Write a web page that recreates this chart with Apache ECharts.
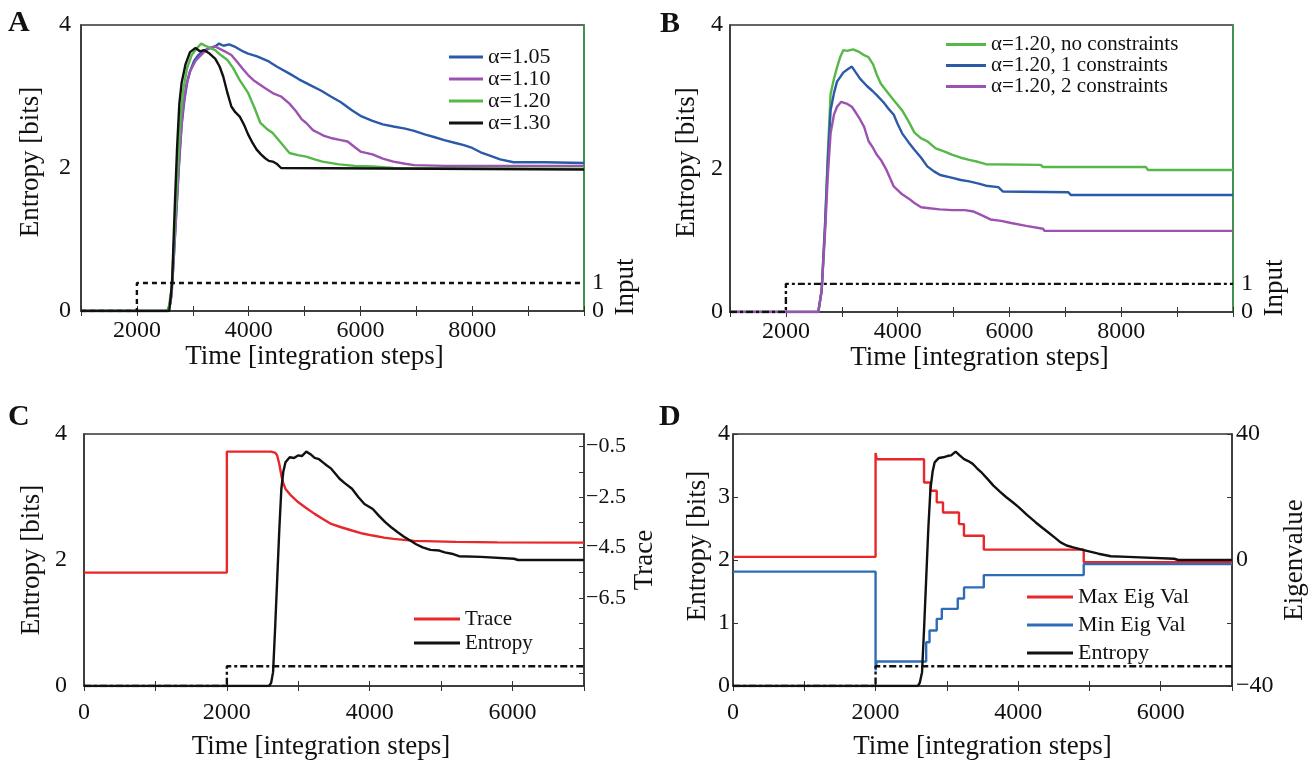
<!DOCTYPE html>
<html><head><meta charset="utf-8">
<script src="https://cdn.jsdelivr.net/npm/echarts@6/dist/echarts.min.js"></script>
<style>html,body{margin:0;padding:0;background:#fff}#c{width:1309px;height:761px}</style>
</head><body><div id="c"></div>
<script>
// ---------- Panel A: entropy for different alpha ----------
const aAlpha105 = [[1000,0],[2540,0],[2600,0.1],[2650,0.6],[2700,1.3],[2750,2.0],[2800,2.6],[2850,2.95],[2900,3.2],[2950,3.35],[3025,3.5],[3100,3.58],[3250,3.66],[3400,3.7],[3470,3.74],[3550,3.71],[3650,3.73],[3770,3.69],[3900,3.63],[3990,3.6],[4150,3.56],[4360,3.49],[4500,3.42],[4730,3.32],[4900,3.24],[5100,3.16],[5300,3.08],[5470,3.0],[5650,2.92],[5840,2.81],[6000,2.73],[6215,2.66],[6400,2.61],[6590,2.58],[6800,2.55],[6960,2.52],[7150,2.47],[7330,2.43],[7500,2.39],[7700,2.35],[7850,2.32],[8000,2.28],[8150,2.22],[8290,2.18],[8500,2.12],[8740,2.08],[9300,2.08],[10000,2.07]];
const aAlpha110 = [[1000,0],[2560,0],[2620,0.2],[2670,0.9],[2720,1.6],[2770,2.3],[2820,2.8],[2880,3.15],[2950,3.35],[3050,3.5],[3200,3.62],[3300,3.68],[3400,3.7],[3500,3.66],[3600,3.62],[3690,3.58],[3800,3.48],[3900,3.38],[3990,3.3],[4100,3.22],[4290,3.12],[4450,3.04],[4580,3.0],[4730,2.9],[4850,2.79],[4950,2.68],[5030,2.63],[5150,2.53],[5250,2.49],[5350,2.45],[5470,2.42],[5650,2.39],[5770,2.37],[5900,2.29],[6000,2.23],[6215,2.19],[6400,2.13],[6590,2.09],[6800,2.06],[6960,2.04],[7500,2.03],[10000,2.03]];
const aAlpha120 = [[1000,0],[2560,0],[2620,0.3],[2680,1.2],[2730,2.0],[2780,2.7],[2830,3.1],[2900,3.4],[2980,3.58],[3080,3.68],[3150,3.74],[3250,3.7],[3400,3.65],[3500,3.58],[3620,3.51],[3720,3.4],[3840,3.23],[3990,3.05],[4100,2.85],[4210,2.63],[4320,2.55],[4430,2.49],[4580,2.35],[4730,2.21],[4880,2.18],[5030,2.16],[5180,2.12],[5320,2.09],[5620,2.05],[5900,2.03],[6215,2.02],[6590,2.0],[10000,1.99]];
const aAlpha130 = [[1000,0],[2580,0],[2630,0.4],[2680,1.5],[2720,2.3],[2760,2.9],[2800,3.19],[2870,3.45],[2950,3.62],[3050,3.68],[3130,3.63],[3200,3.65],[3300,3.6],[3400,3.53],[3480,3.42],[3545,3.28],[3620,3.05],[3690,2.86],[3760,2.78],[3840,2.72],[3920,2.6],[3990,2.47],[4070,2.35],[4140,2.26],[4220,2.19],[4290,2.14],[4360,2.1],[4430,2.09],[4500,2.06],[4580,2.0],[10000,1.98]];
const aInput = [[1000,0],[2000,1],[10000,1]];

// ---------- Panel B: constraints ----------
const bNoConstr = [[1000,0],[2580,0],[2640,0.3],[2700,1.2],[2750,2.2],[2800,3.04],[2860,3.25],[2915,3.41],[2970,3.55],[3030,3.65],[3100,3.64],[3200,3.66],[3300,3.63],[3400,3.58],[3480,3.55],[3560,3.45],[3630,3.3],[3700,3.18],[3800,3.08],[3930,2.95],[4080,2.81],[4200,2.65],[4300,2.5],[4420,2.42],[4530,2.38],[4680,2.28],[4830,2.24],[4980,2.19],[5130,2.15],[5280,2.12],[5450,2.09],[5580,2.06],[6560,2.05],[6600,2.02],[8440,2.02],[8480,1.98],[10000,1.98]];
const bOneConstr = [[1000,0],[2580,0],[2640,0.3],[2700,1.2],[2750,2.1],[2800,2.81],[2860,3.05],[2915,3.21],[3030,3.34],[3100,3.38],[3180,3.42],[3250,3.34],[3330,3.25],[3450,3.15],[3550,3.08],[3630,3.02],[3750,2.92],[3850,2.82],[3930,2.75],[4000,2.62],[4080,2.49],[4200,2.36],[4300,2.26],[4420,2.15],[4530,2.03],[4650,1.96],[4760,1.91],[4980,1.87],[5130,1.84],[5280,1.82],[5450,1.79],[5580,1.76],[5800,1.74],[5880,1.68],[7050,1.67],[7100,1.63],[10000,1.63]];
const bTwoConstr = [[1000,0],[2580,0],[2640,0.3],[2700,1.1],[2750,1.9],[2800,2.49],[2860,2.75],[2915,2.86],[2990,2.93],[3100,2.9],[3180,2.86],[3250,2.78],[3330,2.68],[3400,2.58],[3480,2.38],[3550,2.3],[3620,2.2],[3700,2.12],[3800,1.98],[3930,1.75],[4000,1.7],[4080,1.64],[4200,1.58],[4300,1.52],[4420,1.46],[4530,1.45],[4750,1.43],[4980,1.42],[5200,1.42],[5360,1.4],[5500,1.35],[5660,1.29],[5850,1.27],[6030,1.24],[6300,1.2],[6600,1.16],[6630,1.13],[10000,1.13]];
const bInput = [[1000,0],[2000,1],[10000,1]];

// ---------- Panel C: trace and entropy ----------
const cTrace = [[0,-5.5],[2000,-5.5],[2000,-0.7],[2620,-0.7],[2680,-0.75],[2705,-0.86],[2735,-1.2],[2763,-1.65],[2790,-1.95],[2821,-2.18],[2900,-2.45],[2996,-2.7],[3100,-2.92],[3229,-3.17],[3350,-3.38],[3461,-3.57],[3600,-3.7],[3752,-3.83],[3900,-3.95],[4043,-4.03],[4200,-4.11],[4334,-4.16],[4625,-4.24],[5207,-4.28],[5788,-4.3],[7000,-4.31]];
const cEntropy = [[0,0],[2590,0],[2620,0.05],[2647,0.22],[2675,0.9],[2705,1.7],[2735,2.5],[2763,3.13],[2790,3.4],[2821,3.55],[2880,3.63],[2940,3.62],[2996,3.66],[3050,3.65],[3112,3.72],[3170,3.68],[3229,3.62],[3290,3.6],[3345,3.55],[3400,3.5],[3461,3.45],[3520,3.37],[3578,3.29],[3650,3.22],[3752,3.13],[3840,3.0],[3926,2.89],[4043,2.81],[4130,2.7],[4217,2.6],[4300,2.52],[4392,2.44],[4480,2.37],[4567,2.31],[4650,2.25],[4741,2.2],[4850,2.16],[4974,2.15],[5050,2.12],[5148,2.1],[5250,2.06],[5555,2.05],[6020,2.02],[6078,2.0],[7000,2.0]];
const cInput = [[0,0],[2000,1],[7000,1]];
const cTraceTicks = [-0.5,-1.5,-2.5,-3.5,-4.5,-5.5,-6.5,-7.5,-8.5,-9.5];
const cTraceLabels = [-0.5,-2.5,-4.5,-6.5];

// ---------- Panel D: eigenvalues and entropy ----------
const dMaxEig = [[0,1],[2000,34],[2015,32],[2680,24.6],[2770,22],[2858,18.3],[2946,15.1],[3170,11.4],[3240,7.7],[3518,3.3],[4920,-0.7],[7000,-0.7]];
const dMinEig = [[0,-3.7],[2000,-35],[2015,-32.2],[2710,-26.1],[2757,-22.4],[2858,-18.7],[2929,-15.5],[3153,-12.2],[3241,-8.7],[3518,-4.8],[4920,-1.3],[7000,-1.3]];
const dEntropy = [[0,0],[2593,0],[2620,0.05],[2652,0.22],[2680,0.9],[2710,1.7],[2740,2.5],[2770,3.13],[2800,3.4],[2829,3.55],[2888,3.62],[2950,3.63],[3005,3.65],[3060,3.66],[3123,3.72],[3180,3.66],[3241,3.6],[3300,3.57],[3359,3.53],[3420,3.46],[3477,3.4],[3560,3.3],[3653,3.18],[3740,3.09],[3830,3.0],[3920,2.92],[4007,2.84],[4120,2.72],[4243,2.6],[4330,2.52],[4420,2.44],[4510,2.36],[4596,2.28],[4680,2.23],[4773,2.2],[4950,2.15],[5126,2.1],[5300,2.06],[5539,2.05],[6187,2.02],[6246,2.0],[7000,2.0]];
const dInput = [[0,0],[2000,1],[7000,1]];

const namesA = ['α=1.05','α=1.10','α=1.20','α=1.30'];
const namesB = ['α=1.20, no constraints','α=1.20, 1 constraints','α=1.20, 2 constraints'];
const namesC = ['Trace','Entropy'];
const namesD = ['Max Eig Val','Min Eig Val','Entropy '];

const FONT = '"Liberation Serif", "Times New Roman", serif';
const INK = '#111';
const AX = '#333';
const GREEN_AX = '#3a9f4a';
const C_BLUE = '#2a5aa8', C_PURPLE = '#9d52b2', C_GREEN = '#55b848', C_BLACK = '#111', C_RED = '#e8262b', C_BLUE2 = '#2f6cb8';

const chart = echarts.init(document.getElementById('c'), null, {renderer: 'canvas'});

function xb(grid, min, max, fmt, margin, gap, shiftLeft) {
  return {
    type: 'value', gridIndex: grid, position: 'bottom', min: min, max: max, interval: 1000,
    axisLine: {show: true, onZero: false, lineStyle: {color: AX, width: 1.5}},
    axisTick: {show: true, inside: true, length: 5, lineStyle: {color: AX}},
    axisLabel: {show: true, formatter: fmt, margin: margin, color: INK, fontFamily: FONT, fontSize: 24},
    splitLine: {show: false},
    name: 'Time [integration steps]', nameLocation: 'middle', nameGap: gap,
    nameTextStyle: {color: INK, fontFamily: FONT, fontSize: 27, padding: [0, 2 * shiftLeft, 0, 0]}
  };
}
function xt(grid, min, max) {
  return {
    type: 'value', gridIndex: grid, position: 'top', min: min, max: max, interval: 1000,
    axisLine: {show: false}, axisTick: {show: true, inside: true, length: 5, lineStyle: {color: AX}},
    axisLabel: {show: false}, splitLine: {show: false}
  };
}
function yl(grid, interval, margin, gap, shiftUp) {
  return {
    type: 'value', gridIndex: grid, position: 'left', min: 0, max: 4, interval: interval,
    axisLine: {show: true, onZero: false, lineStyle: {color: AX, width: 1.5}},
    axisTick: {show: interval === 1, inside: true, length: 5, lineStyle: {color: AX}},
    axisLabel: {margin: margin, color: INK, fontFamily: FONT, fontSize: 24},
    splitLine: {show: false},
    name: 'Entropy [bits]', nameLocation: 'middle', nameGap: gap, nameRotate: 90,
    nameTextStyle: {color: INK, fontFamily: FONT, fontSize: 27, padding: [0, 0, 0, 2 * shiftUp]}
  };
}
function yInput(grid) {
  return {
    type: 'value', gridIndex: grid, position: 'right', min: 0, max: 10.2, interval: 1,
    axisLine: {show: true, onZero: false, lineStyle: {color: GREEN_AX, width: 1.5}},
    axisTick: {show: false},
    axisLabel: {margin: 8, color: INK, fontFamily: FONT, fontSize: 24,
      formatter: v => (v === 0 ? '0' : (v === 1 ? '1' : ''))},
    splitLine: {show: false}
  };
}
function yHidden(grid, max) {
  return {type: 'value', gridIndex: grid, show: false, min: 0, max: max, splitLine: {show: false}};
}

const evenThousands = v => (v % 2000 === 0 && v >= 2000 && v <= 8000 ? String(v) : '');
const xAxis = [
  xb(0, 1000, 10000, evenThousands, 8, 31, 18),
  xt(0, 1000, 10000),
  xb(1, 1000, 10000, evenThousands, 8, 31, 2),
  xt(1, 1000, 10000),
  xb(2, 0, 7000, v => (v % 2000 === 0 ? String(v) : ''), 15, 47, 13),
  xt(2, 0, 7000),
  xb(3, 0, 7000, v => (v % 2000 === 0 ? String(v) : ''), 15, 47, 0),
  xt(3, 0, 7000)
];

const yAxis = [
  yl(0, 2, 10, 37, 6),
  yInput(0),
  yl(1, 2, 7, 30, 6),
  yInput(1),
  yl(2, 2, 17, 39, 0),
  { type: 'value', gridIndex: 2, position: 'right', min: -10, max: 0,
    axisLine: {show: true, onZero: false, lineStyle: {color: AX, width: 1.5}},
    axisTick: {show: true, inside: true, length: 5, customValues: cTraceTicks, lineStyle: {color: AX}},
    axisLabel: {margin: 2, color: INK, fontFamily: FONT, fontSize: 22, customValues: cTraceLabels,
      formatter: v => '−' + Math.abs(v).toFixed(1)},
    splitLine: {show: false},
    name: 'Trace', nameLocation: 'middle', nameGap: 47, nameRotate: 90,
    nameTextStyle: {color: INK, fontFamily: FONT, fontSize: 27} },
  yHidden(2, 12.75),
  yl(3, 1, 3, 22, 14),
  { type: 'value', gridIndex: 3, position: 'right', min: -40, max: 40, interval: 20,
    axisLine: {show: true, onZero: false, lineStyle: {color: AX, width: 1.5}},
    axisTick: {show: true, inside: true, length: 5, lineStyle: {color: AX}},
    axisLabel: {margin: 4, color: INK, fontFamily: FONT, fontSize: 24,
      formatter: v => (v === 40 ? '40' : v === 0 ? '0' : v === -40 ? '−40' : '')},
    splitLine: {show: false},
    name: 'Eigenvalue', nameLocation: 'middle', nameGap: 49, nameRotate: 90,
    nameTextStyle: {color: INK, fontFamily: FONT, fontSize: 27} },
  yHidden(3, 12.75)
];

function line(name, data, xi, yi, color, width, extra) {
  return Object.assign({
    type: 'line', name: name, data: data, xAxisIndex: xi, yAxisIndex: yi,
    symbol: 'none', showSymbol: false, animation: false, silent: true,
    lineStyle: {color: color, width: width}, itemStyle: {color: color}
  }, extra || {});
}
function dashed(name, data, xi, yi, dash) {
  return {
    type: 'line', name: name, data: data, xAxisIndex: xi, yAxisIndex: yi, step: 'end',
    symbol: 'none', showSymbol: false, animation: false, silent: true,
    lineStyle: {color: '#111', width: 2.4, type: dash}, itemStyle: {color: '#111'}
  };
}

const series = [
  line(namesA[0], aAlpha105, 0, 0, C_BLUE, 2.4),
  line(namesA[1], aAlpha110, 0, 0, C_PURPLE, 2.4),
  line(namesA[2], aAlpha120, 0, 0, C_GREEN, 2.4),
  line(namesA[3], aAlpha130, 0, 0, C_BLACK, 2.4),
  dashed('Input A', aInput, 0, 1, [5, 4]),
  line(namesB[0], bNoConstr, 2, 2, C_GREEN, 2.4),
  line(namesB[1], bOneConstr, 2, 2, C_BLUE, 2.4),
  line(namesB[2], bTwoConstr, 2, 2, C_PURPLE, 2.4),
  dashed('Input B', bInput, 2, 3, [7, 3, 3, 3]),
  line(namesC[0], cTrace, 4, 5, C_RED, 2.4),
  line(namesC[1], cEntropy, 4, 4, C_BLACK, 2.4),
  dashed('Input C', cInput, 4, 6, [7, 3, 3, 3]),
  line(namesD[0], dMaxEig, 6, 8, C_RED, 2.4, {step: 'end'}),
  line(namesD[1], dMinEig, 6, 8, C_BLUE2, 2.4, {step: 'end'}),
  line(namesD[2], dEntropy, 6, 7, C_BLACK, 2.4),
  dashed('Input D', dInput, 6, 9, [7, 3, 3, 3])
];

function legend(names, left, top, iw, fs, lh, gap) {
  return {
    orient: 'vertical', left: left, top: top, padding: 0, data: names, itemWidth: iw, itemHeight: 3, itemGap: gap,
    selectedMode: false, icon: 'rect',
    textStyle: {color: INK, fontFamily: FONT, fontSize: fs, lineHeight: lh}
  };
}

const option = {
  backgroundColor: '#fff',
  animation: false,
  grid: [
    {left: 81, top: 25, width: 503, height: 286, show: true, borderColor: AX, borderWidth: 1.5, containLabel: false},
    {left: 730, top: 25, width: 503, height: 287, show: true, borderColor: AX, borderWidth: 1.5, containLabel: false},
    {left: 84, top: 434, width: 500, height: 255, show: true, borderColor: AX, borderWidth: 1.5, containLabel: false},
    {left: 733, top: 434, width: 500, height: 255, show: true, borderColor: AX, borderWidth: 1.5, containLabel: false}
  ],
  xAxis: xAxis,
  yAxis: yAxis,
  legend: [
    legend(namesA, 449, 46, 34, 22, 22, 0),
    legend(namesB, 946, 34, 40, 21, 20, 0),
    legend(namesC, 414, 607, 46, 21, 24, 0),
    legend(namesD, 1027, 586, 46, 22, 22, 6)
  ],
  graphic: [
    {type: 'text', left: 8, top: 8, style: {text: 'A', font: 'bold 30px "Liberation Serif"', fill: INK}},
    {type: 'text', left: 660, top: 9, style: {text: 'B', font: 'bold 30px "Liberation Serif"', fill: INK}},
    {type: 'text', left: 8, top: 402, style: {text: 'C', font: 'bold 30px "Liberation Serif"', fill: INK}},
    {type: 'text', left: 659, top: 402, style: {text: 'D', font: 'bold 30px "Liberation Serif"', fill: INK}},
    {type: 'text', x: 626, y: 287, rotation: Math.PI / 2,
      style: {text: 'Input', font: '27px "Liberation Serif"', fill: INK, align: 'center', verticalAlign: 'middle'}},
    {type: 'text', x: 1275, y: 288, rotation: Math.PI / 2,
      style: {text: 'Input', font: '27px "Liberation Serif"', fill: INK, align: 'center', verticalAlign: 'middle'}}
  ],
  series: series
};
chart.setOption(option);
</script>
</body></html>
